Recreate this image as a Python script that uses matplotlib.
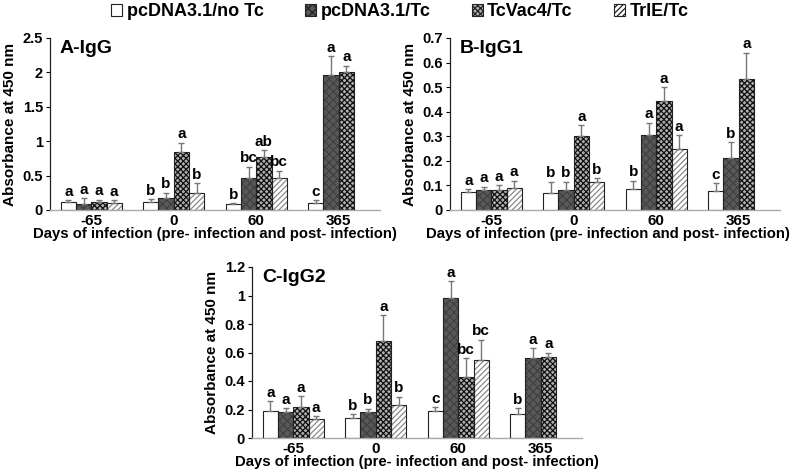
import matplotlib
matplotlib.use('Agg')
import matplotlib.pyplot as plt
import numpy as np
from matplotlib.patches import Patch

plt.rcParams['font.family'] = ['Liberation Sans', 'DejaVu Sans']
plt.rcParams['font.weight'] = 'bold'
plt.rcParams['hatch.linewidth'] = 0.9

days = ['-65', '0', '60', '365']
groups = ['pcDNA3.1/no Tc', 'pcDNA3.1/Tc', 'TcVac4/Tc', 'TrIE/Tc']
nan = np.nan

# Panel A - IgG (rows: groups, cols: days)
igg_mean = [[0.11, 0.12, 0.09, 0.10],
            [0.09, 0.17, 0.46, 1.96],
            [0.11, 0.84, 0.77, 2.01],
            [0.10, 0.24, 0.47, nan]]
igg_err = [[0.03, 0.04, 0.01, 0.04],
           [0.08, 0.08, 0.17, 0.28],
           [0.04, 0.14, 0.10, 0.09],
           [0.04, 0.15, 0.10, nan]]
igg_lab = [['a', 'b', 'b', 'c'],
           ['a', 'b', 'bc', 'a'],
           ['a', 'a', 'ab', 'a'],
           ['a', 'b', 'bc', '']]

# Panel B - IgG1
igg1_mean = [[0.075, 0.070, 0.085, 0.076],
             [0.080, 0.083, 0.305, 0.210],
             [0.083, 0.300, 0.443, 0.535],
             [0.090, 0.112, 0.248, nan]]
igg1_err = [[0.010, 0.045, 0.035, 0.034],
            [0.015, 0.032, 0.050, 0.065],
            [0.017, 0.045, 0.057, 0.105],
            [0.030, 0.018, 0.057, nan]]
igg1_lab = [['a', 'b', 'b', 'c'],
            ['a', 'b', 'a', 'b'],
            ['a', 'a', 'a', 'a'],
            ['a', 'b', 'a', '']]

# Panel C - IgG2
igg2_mean = [[0.19, 0.14, 0.19, 0.17],
             [0.185, 0.18, 0.98, 0.56],
             [0.215, 0.68, 0.43, 0.57],
             [0.13, 0.23, 0.55, nan]]
igg2_err = [[0.07, 0.025, 0.025, 0.04],
            [0.025, 0.025, 0.12, 0.07],
            [0.08, 0.18, 0.13, 0.03],
            [0.025, 0.06, 0.14, nan]]
igg2_lab = [['a', 'b', 'c', 'b'],
            ['a', 'b', 'a', 'a'],
            ['a', 'a', 'bc', 'a'],
            ['a', 'b', 'bc', '']]

styles = [dict(fc='white', hc='white', hatch=None),
          dict(fc='#585858', hc='#404040', hatch='xxxx'),
          dict(fc='#b0b0b0', hc='#111111', hatch='xxxxxx'),
          dict(fc='white', hc='#8a8a8a', hatch='//////')]

fig = plt.figure(figsize=(8, 4.74), dpi=100)
W, H = 800, 474


def ax_at(x0, x1, ytop, ybot):
    return fig.add_axes([x0 / W, 1 - ybot / H, (x1 - x0) / W, (ybot - ytop) / H])


def panel(ax, means, errs, labs, ymax, ystep, title, tickfmt, xlab_x=0.5):
    x = np.arange(len(days))
    w = 0.185
    for i in range(4):
        pos = x + (i - 1.5) * w
        m = np.array(means[i], dtype=float)
        e = np.array(errs[i], dtype=float)
        st = styles[i]
        ax.bar(pos, m, w, color=st['fc'], edgecolor=st['hc'], hatch=st['hatch'],
               linewidth=0, zorder=2)
        ax.bar(pos, m, w, fill=False, edgecolor='#222222', linewidth=0.8, zorder=3)
        ax.errorbar(pos, m, yerr=[np.zeros_like(e), e], fmt='none', ecolor='#777777',
                    elinewidth=1.0, capsize=2.5, capthick=1.0, zorder=4)
        for j in range(len(days)):
            if labs[i][j] and not np.isnan(m[j]):
                ax.text(pos[j], m[j] + e[j] + ymax * 0.008, labs[i][j], ha='center',
                        va='bottom', fontsize=11, fontweight='bold', zorder=5)
    ax.set_xlim(-0.5, 3.5)
    ax.set_ylim(0, ymax)
    ticks = np.arange(0, ymax + ystep / 2, ystep)
    ax.set_yticks(ticks)
    ax.set_yticklabels([tickfmt(t) for t in ticks], fontsize=10.5, fontweight='bold')
    ax.set_xticks(x)
    ax.set_xticklabels(days, fontsize=11, fontweight='bold')
    ax.tick_params(axis='x', length=0, pad=3)
    ax.tick_params(axis='y', length=3, width=0.8, direction='out', pad=2)
    for s in ['top', 'right']:
        ax.spines[s].set_visible(False)
    ax.spines['left'].set_color('#222222')
    ax.spines['left'].set_linewidth(0.9)
    ax.spines['bottom'].set_color('#aaaaaa')
    ax.spines['bottom'].set_linewidth(1.0)
    ax.set_ylabel('Absorbance at 450 nm', fontsize=11, fontweight='bold', labelpad=4)
    ax.set_xlabel('Days of infection (pre- infection and post- infection)', fontsize=10.7,
                  fontweight='bold', labelpad=1)
    ax.xaxis.set_label_coords(xlab_x, -0.1)
    ax.xaxis.label.set_va('top')
    ax.text(0.03, 0.99, title, transform=ax.transAxes, ha='left', va='top',
            fontsize=14, fontweight='bold')


def fmt(t):
    s = ('%.2f' % t).rstrip('0').rstrip('.')
    return s


axA = ax_at(50, 380, 38, 210)
panel(axA, igg_mean, igg_err, igg_lab, 2.5, 0.5, 'A-IgG', fmt)
axB = ax_at(450, 780, 38, 210)
panel(axB, igg1_mean, igg1_err, igg1_lab, 0.7, 0.1, 'B-IgG1', fmt, xlab_x=0.48)
axC = ax_at(252, 582, 267, 438)
panel(axC, igg2_mean, igg2_err, igg2_lab, 1.2, 0.2, 'C-IgG2', fmt)

handles = [Patch(facecolor=st['fc'], edgecolor='#222222', hatch=st['hatch'], linewidth=0.8)
           for st in styles]
fig.legend(handles, groups, loc='center', bbox_to_anchor=(0.5, 1 - 12 / H), ncol=4,
           frameon=False, prop={'size': 13, 'weight': 'bold'}, handlelength=0.6,
           handleheight=0.6, handletextpad=0.25, columnspacing=2.3, borderaxespad=0)

fig.savefig('out.png', dpi=100)
